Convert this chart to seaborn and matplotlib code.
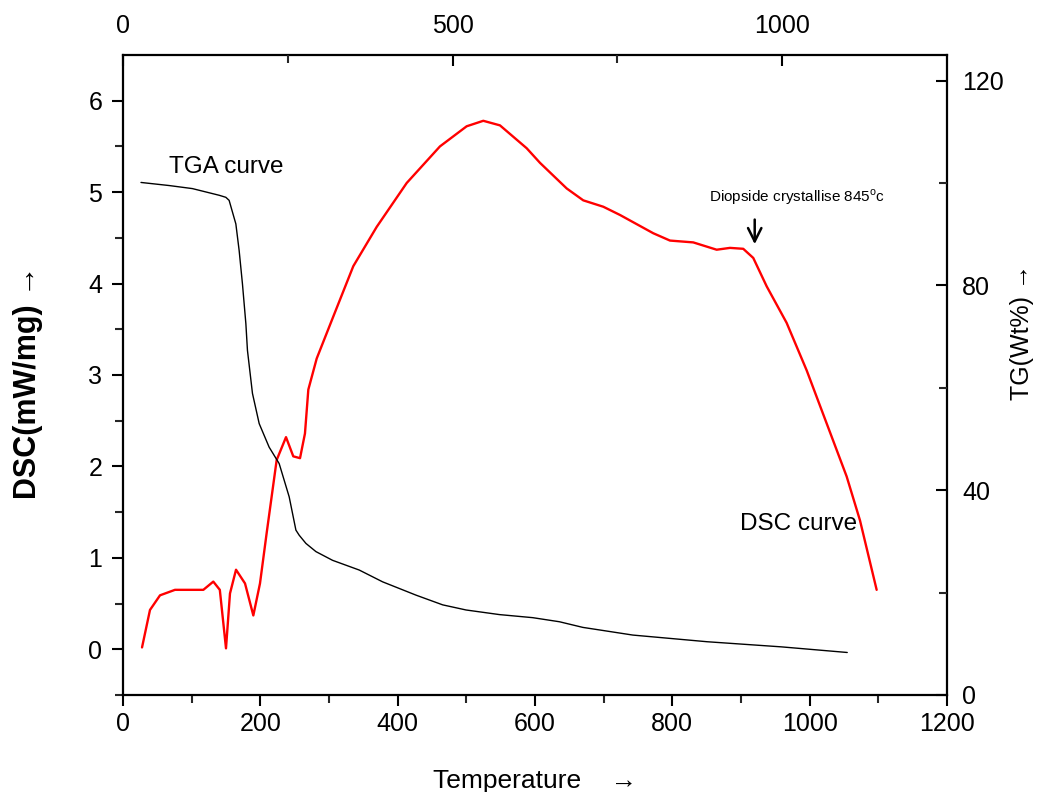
import numpy as np
import pandas as pd
import seaborn as sns
import matplotlib.pyplot as plt
from matplotlib.ticker import MultipleLocator, FixedLocator
plt.switch_backend('agg')

# DSC curve (bottom x axis, left y axis)
dsc_temp = [27.7, 39.3, 53.9, 75.7, 92.7, 117.0, 131.5, 141.0, 150.0, 155.8, 164.6, 177.7,
            189.8, 199.5, 209.2, 223.8, 237.4, 248.0, 257.8, 265.0, 269.9, 282.1, 306.3,
            335.4, 369.5, 413.2, 461.6, 500.5, 524.7, 549.0, 587.9, 607.3, 646.2, 670.3,
            699.5, 723.8, 752.9, 772.3, 796.6, 830.5, 864.6, 884.0, 903.3, 917.9, 937.4,
            966.5, 995.7, 1024.8, 1053.9, 1073.3, 1097.6]
dsc_val = [0.02, 0.43, 0.59, 0.65, 0.65, 0.65, 0.74, 0.65, 0.01, 0.61, 0.87, 0.72,
           0.37, 0.72, 1.27, 2.07, 2.32, 2.11, 2.09, 2.36, 2.84, 3.18, 3.64,
           4.19, 4.62, 5.10, 5.50, 5.72, 5.78, 5.73, 5.48, 5.32, 5.04, 4.91,
           4.84, 4.75, 4.63, 4.55, 4.47, 4.45, 4.37, 4.39, 4.38, 4.28, 3.97,
           3.57, 3.05, 2.47, 1.89, 1.41, 0.65]

# TGA curve (top x axis, right y axis)
tga_temp = [27.3, 69.9, 105.3, 145.8, 156.0, 161.0, 171.2, 176.2, 181.2, 186.4, 188.8,
            196.4, 206.6, 221.7, 236.9, 252.1, 262.3, 267.3, 277.5, 292.7, 317.9, 358.4,
            393.8, 444.5, 485.0, 520.5, 571.1, 621.6, 662.2, 697.6, 723.0, 773.5, 886.1,
            998.6, 1098.7]
tga_val = [100.1, 99.5, 98.9, 97.6, 97.2, 96.6, 92.0, 86.8, 80.3, 72.5, 67.3,
           58.9, 53.0, 48.4, 45.2, 38.7, 32.2, 31.2, 29.6, 28.0, 26.3, 24.4,
           22.1, 19.5, 17.6, 16.6, 15.7, 15.1, 14.3, 13.2, 12.7, 11.7, 10.4,
           9.4, 8.3]

sns.set_style('ticks')
plt.rcParams['font.family'] = ['Liberation Sans', 'DejaVu Sans']
plt.rcParams['mathtext.fontset'] = 'custom'
plt.rcParams['mathtext.rm'] = 'Liberation Sans'
plt.rcParams['text.color'] = 'black'
plt.rcParams['axes.labelcolor'] = 'black'

df_dsc = pd.DataFrame({'temp': dsc_temp, 'dsc': dsc_val})
df_tga = pd.DataFrame({'temp': tga_temp, 'tg': tga_val})

fig = plt.figure(figsize=(10.38, 7.92), dpi=100)
pos = [0.1185, 0.1225, 0.7938, 0.8081]
ax = fig.add_axes(pos)
ax2 = fig.add_axes(pos, frameon=False)
ax2.patch.set_visible(False)

sns.lineplot(data=df_dsc, x='temp', y='dsc', ax=ax, color='#ff0000', linewidth=1.7,
             sort=False, estimator=None)
sns.lineplot(data=df_tga, x='temp', y='tg', ax=ax2, color='black', linewidth=1.0,
             sort=False, estimator=None)

ax.set_xlim(0, 1200)
ax.set_ylim(-0.5, 6.5)
ax2.set_xlim(0, 1250)
ax2.set_ylim(0, 125)

ax.xaxis.set_major_locator(MultipleLocator(200))
ax.xaxis.set_minor_locator(MultipleLocator(100))
ax.yaxis.set_major_locator(FixedLocator([0, 1, 2, 3, 4, 5, 6]))
ax.yaxis.set_minor_locator(FixedLocator([-0.5, 0.5, 1.5, 2.5, 3.5, 4.5, 5.5]))

ax2.xaxis.tick_top()
ax2.yaxis.tick_right()
ax2.xaxis.set_major_locator(FixedLocator([0, 500, 1000]))
ax2.xaxis.set_minor_locator(FixedLocator([250, 750]))
ax2.yaxis.set_major_locator(FixedLocator([0, 40, 80, 120]))
ax2.yaxis.set_minor_locator(FixedLocator([20, 60, 100]))

for s in ax.spines.values():
    s.set_visible(True)
    s.set_linewidth(1.6)
    s.set_color('black')

ax.tick_params(axis='both', which='major', direction='out', length=8, width=1.5,
               labelsize=18, colors='black')
ax.tick_params(axis='both', which='minor', direction='out', length=6, width=1.5)
ax.tick_params(axis='y', pad=7)
ax.tick_params(axis='x', pad=4)
ax2.tick_params(axis='both', which='major', direction='in', length=8, width=1.5,
                labelsize=18, colors='black')
ax2.tick_params(axis='both', which='minor', direction='in', length=6, width=1.5)
ax2.tick_params(axis='x', pad=12)
ax2.tick_params(axis='y', pad=11)

ax.set_xlabel('Temperature    \u2192', fontsize=19, labelpad=24)
ax.set_ylabel('DSC(mW/mg) \u2192', fontsize=22, fontweight='bold', va='center')
ax.yaxis.set_label_coords(-0.115, 0.489)
ax2.set_xlabel('')
ax2.set_ylabel('')
fig.text(1022 / 1038, 1 - 332 / 792, 'TG(Wt%) \u2192', fontsize=18, rotation=90,
         ha='center', va='center')

ax.text(150, 5.27, 'TGA curve', fontsize=17.5, ha='center', va='center')
ax.text(984, 1.37, 'DSC curve', fontsize=17.5, ha='center', va='center')
ax.text(981, 4.94, 'Diopside crystallise 845$^\\mathrm{o}$c', fontsize=11,
        ha='center', va='center')
ax.annotate('', xy=(920, 4.40), xytext=(920, 4.73),
            arrowprops=dict(arrowstyle='->', color='black', lw=1.8, mutation_scale=24))

fig.savefig('out.png', dpi=100)
